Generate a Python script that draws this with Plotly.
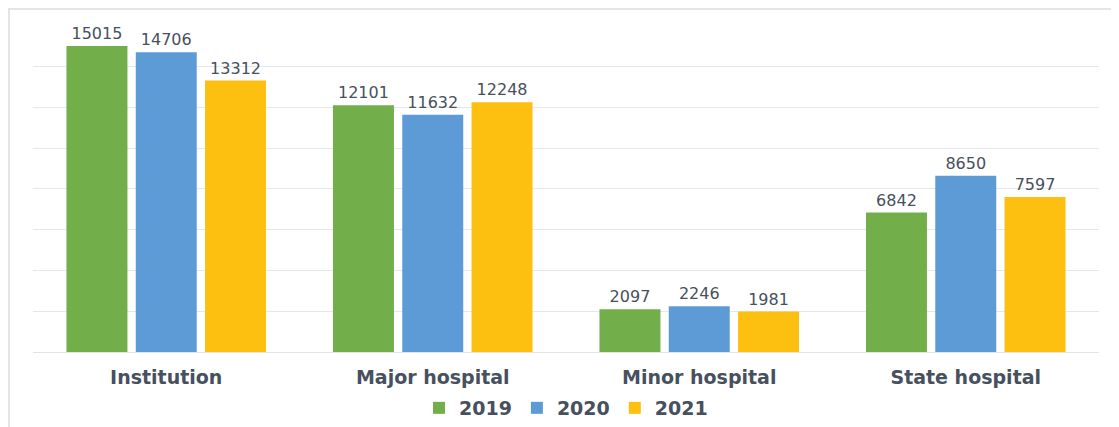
import plotly.graph_objects as go

categories = ["Institution", "Major hospital", "Minor hospital", "State hospital"]
years = ["2019", "2020", "2021"]
values_2019 = [15015, 12101, 2097, 6842]
values_2020 = [14706, 11632, 2246, 8650]
values_2021 = [13312, 12248, 1981, 7597]
colors = ["#72AE4A", "#5D9BD6", "#FDC010"]

text_color = "#46505e"
series = [values_2019, values_2020, values_2021]

fig = go.Figure()
for name, vals, col in zip(years, series, colors):
    fig.add_trace(go.Bar(
        x=categories, y=vals, name=name,
        marker=dict(color=col, line=dict(width=0)),
        text=[str(v) for v in vals], textposition="outside",
        textfont=dict(family="DejaVu Sans", size=16, color=text_color),
        cliponaxis=False,
    ))

# page has an 8px body margin, so the figure is drawn at (8, 8)
OFF = 8
W, H = 1119 - OFF, 427 - OFF
ml, mr, mt, mb = 33 - OFF, 20, 25 - OFF, 75
pw, ph = W - ml - mr, H - mt - mb

def px(x):
    return (x - OFF - ml) / pw

def py(y):
    return (H - mb - (y - OFF)) / ph

fig.update_layout(
    width=W, height=H,
    margin=dict(l=ml, r=mr, t=mt, b=mb, autoexpand=False),
    paper_bgcolor="white", plot_bgcolor="white",
    barmode="group", bargap=0.22, bargroupgap=0.12,
    showlegend=True,
    legend=dict(orientation="h", x=0.5, xanchor="center", y=py(408), yanchor="middle",
                font=dict(family="DejaVu Sans", size=19, color=text_color, weight="bold"),
                itemwidth=30, traceorder="normal"),
    xaxis=dict(showgrid=False, showline=False, ticks="", ticklabelstandoff=12,
               tickfont=dict(family="DejaVu Sans", size=19, color=text_color, weight="bold")),
    yaxis=dict(range=[0, 16040], tick0=0, dtick=2000, showgrid=True, gridcolor="#e4e7ec", gridwidth=1,
               showticklabels=False, zeroline=True, zerolinecolor="#e0e3e8", zerolinewidth=1,
               showline=False, ticks=""),
    shapes=[
        dict(type="line", xref="paper", yref="paper", x0=px(8), x1=px(1119), y0=py(9), y1=py(9),
             line=dict(color="#dcdcdc", width=1.5)),
        dict(type="line", xref="paper", yref="paper", x0=px(9), x1=px(9), y0=py(9), y1=py(427),
             line=dict(color="#dcdcdc", width=1.5)),
    ],
)

fig.write_html("out.html")
